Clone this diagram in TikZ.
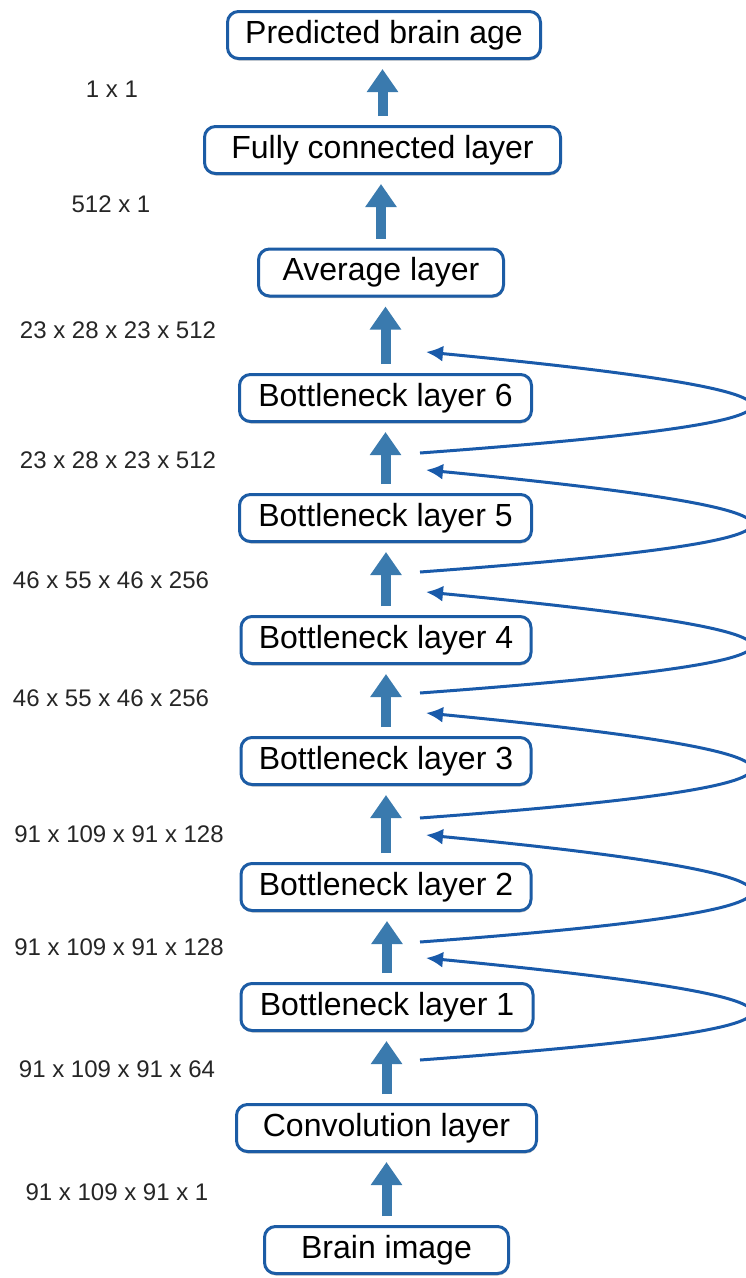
\documentclass[tikz,border=0pt]{standalone}
\usepackage{fontspec}
\setmainfont{Liberation Sans}
\usetikzlibrary{arrows.meta,shadows}
\definecolor{boxline}{RGB}{28,92,165}
\definecolor{arrowblue}{RGB}{58,122,174}
\definecolor{curveblue}{RGB}{25,90,170}
\tikzset{
  layerbox/.style={draw=boxline, line width=3pt, fill=white, rounded corners=11pt,
    minimum height=47pt, inner sep=0pt, text=black,
    font=\fontsize{32}{36}\selectfont,
    drop shadow={shadow xshift=0.5pt, shadow yshift=-2pt, opacity=0.25, fill=black}},
  dimlabel/.style={inner sep=0pt, text=black!85, font=\fontsize{24}{28}\selectfont},
  blockarrow/.style={draw=arrowblue, line width=10pt,
    -{Triangle[length=23pt,width=30pt]}, shorten >=9pt, shorten <=9pt},
  skiparrow/.style={draw=curveblue, line width=3pt,
    -{Latex[length=17pt,width=16pt]}}
}
\begin{document}
\begin{tikzpicture}[x=1pt,y=-1pt]
\useasboundingbox (0,0) rectangle (746,1278);
\clip (0,0) rectangle (746,1278);
\fill[white] (0,0) rectangle (746,1278);

% layer boxes
\node[layerbox, minimum width=313pt] (pred)  at (384,35)    {Predicted brain age};
\node[layerbox, minimum width=356pt] (fully) at (382.5,150) {Fully connected layer};
\node[layerbox, minimum width=245pt] (avg)   at (381,272.5) {Average layer};
\node[layerbox, minimum width=292pt] (bl6)   at (385.5,398) {Bottleneck layer 6};
\node[layerbox, minimum width=292pt] (bl5)   at (385.5,518) {Bottleneck layer 5};
\node[layerbox, minimum width=290pt] (bl4)   at (386,640)   {Bottleneck layer 4};
\node[layerbox, minimum width=290pt] (bl3)   at (386,761)   {Bottleneck layer 3};
\node[layerbox, minimum width=290pt] (bl2)   at (386,887)   {Bottleneck layer 2};
\node[layerbox, minimum width=292pt] (bl1)   at (387,1007)  {Bottleneck layer 1};
\node[layerbox, minimum width=300pt] (conv)  at (386.5,1128){Convolution layer};
\node[layerbox, minimum width=244pt] (brain) at (386.5,1250){Brain image};

% dimension labels
\node[dimlabel] (d1)  at (112,89)   {1 x 1};
\node[dimlabel] (d2)  at (111,204)  {512 x 1};
\node[dimlabel] (d3)  at (118,330)  {23 x 28 x 23 x 512};
\node[dimlabel] (d4)  at (118,460)  {23 x 28 x 23 x 512};
\node[dimlabel] (d5)  at (111,580)  {46 x 55 x 46 x 256};
\node[dimlabel] (d6)  at (111,698)  {46 x 55 x 46 x 256};
\node[dimlabel] (d7)  at (119,834)  {91 x 109 x 91 x 128};
\node[dimlabel] (d8)  at (119,947)  {91 x 109 x 91 x 128};
\node[dimlabel] (d9)  at (117,1069) {91 x 109 x 91 x 64};
\node[dimlabel] (d10) at (117,1192) {91 x 109 x 91 x 1};

% main block arrows
\draw[blockarrow] (brain.north) -- (brain.north |- conv.south);
\draw[blockarrow] (conv.north)  -- (conv.north |- bl1.south);
\draw[blockarrow] (bl1.north)   -- (bl1.north |- bl2.south);
\draw[blockarrow] (bl2.north)   -- (bl2.north |- bl3.south);
\draw[blockarrow] (bl3.north)   -- (bl3.north |- bl4.south);
\draw[blockarrow] (bl4.north)   -- (bl4.north |- bl5.south);
\draw[blockarrow] (bl5.north)   -- (bl5.north |- bl6.south);
\draw[blockarrow] (bl6.north)   -- (bl6.north |- avg.south);
\draw[blockarrow] (avg.north)   -- (avg.north |- fully.south);
\draw[blockarrow] (fully.north) -- (fully.north |- pred.south);

% skip connection end points
\coordinate (s1) at (420,1060); \coordinate (e1) at (426,958);
\coordinate (s2) at (420,942);  \coordinate (e2) at (426,835);
\coordinate (s3) at (420,818);  \coordinate (e3) at (426,713);
\coordinate (s4) at (420,693);  \coordinate (e4) at (426,592);
\coordinate (s5) at (420,572);  \coordinate (e5) at (426,470);
\coordinate (s6) at (420,453);  \coordinate (e6) at (426,352);

% skip connections
\foreach \i in {1,...,6}{
  \draw[skiparrow] (s\i) .. controls +(436,-32) and +(436,42) .. (e\i);
}
\end{tikzpicture}
\end{document}
